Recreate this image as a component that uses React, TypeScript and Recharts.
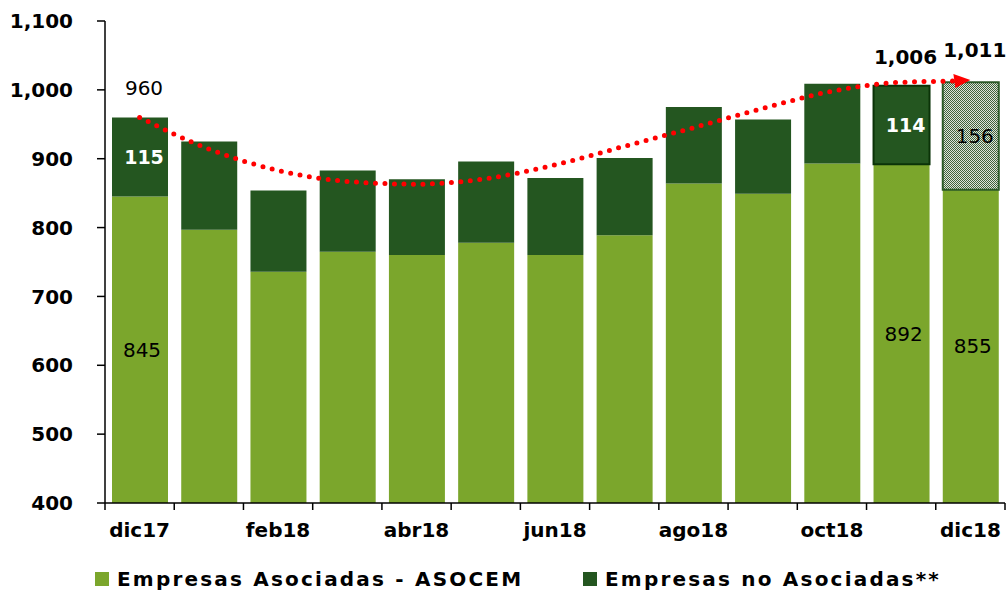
import { Bar, Cell, ComposedChart, LabelList, Legend, Line, XAxis, YAxis } from "recharts";

const months = ["dic17", "ene18", "feb18", "mar18", "abr18", "may18", "jun18", "jul18", "ago18", "sep18", "oct18", "nov18", "dic18"];
const asociadas = [845, 797, 736, 765, 760, 778, 760, 789, 864, 849, 893, 892, 855];
const noAsociadas = [115, 128, 118, 118, 110, 118, 112, 112, 111, 108, 116, 114, 156];
const tendencia = [960, 914, 883, 867, 863, 871, 891, 918, 945, 973, 998, 1011, 1013];
const labelledMonths = ["dic17", "nov18", "dic18"];
const yTicks = [400, 500, 600, 700, 800, 900, 1000, 1100];

const LIGHT = "#7ba62c";
const DARK = "#245620";
const FONT = "'DejaVu Sans', sans-serif";

const W = 1007;
const H = 592;
const Y_AXIS_W = 105;
const RIGHT = 2;
const band = (W - Y_AXIS_W - RIGHT) / months.length;

const fmt = (v: number) => v.toLocaleString("en-US");

const data = months.map((month, i) => {
  const shown = labelledMonths.includes(month);
  return {
    month,
    asoc: asociadas[i],
    noAsoc: noAsociadas[i],
    trend: tendencia[i],
    asocLabel: shown ? String(asociadas[i]) : "",
    noAsocLabel: shown ? String(noAsociadas[i]) : "",
    totalLabel: shown ? fmt(asociadas[i] + noAsociadas[i]) : "",
  };
});

const MonthTick = (props: any) => {
  const { x, y, payload, index } = props;
  return (
    <g>
      <line x1={x - band / 2} x2={x - band / 2} y1={y} y2={y + 7} stroke="#000" strokeWidth={1.5} />
      {index === months.length - 1 && (
        <line x1={x + band / 2} x2={x + band / 2} y1={y} y2={y + 7} stroke="#000" strokeWidth={1.5} />
      )}
      {index % 2 === 0 && (
        <text x={x} y={y + 34} textAnchor="middle" fontFamily={FONT} fontWeight="bold" fontSize={20} fill="#000">
          {payload.value}
        </text>
      )}
    </g>
  );
};

const AsocLabel = (props: any) => {
  const { x, y, width, height, value } = props;
  if (!value) return null;
  return (
    <text x={x + width / 2 + 2} y={y + height / 2 + 7} textAnchor="middle" fontFamily={FONT} fontSize={20} fill="#000">
      {value}
    </text>
  );
};

const NoAsocLabel = (props: any) => {
  const { x, y, width, height, value, index } = props;
  if (!value) return null;
  const last = index === months.length - 1;
  return (
    <text
      x={x + width / 2 + 4}
      y={y + height / 2 + 7}
      textAnchor="middle"
      fontFamily={FONT}
      fontWeight={last ? "normal" : "bold"}
      fontSize={last ? 20 : 19}
      fill={last ? "#000" : "#fff"}
    >
      {value}
    </text>
  );
};

const TotalLabel = (props: any) => {
  const { x, y, width, value, index } = props;
  if (!value) return null;
  return (
    <text
      x={x + width / 2 + 4}
      y={y - (index === months.length - 1 ? 25 : 22)}
      textAnchor="middle"
      fontFamily={FONT}
      fontWeight={index === 0 ? "normal" : "bold"}
      fontSize={20}
      fill="#000"
    >
      {value}
    </text>
  );
};

const ArrowDot = (props: any) => {
  const { cx, cy, index } = props;
  if (index !== months.length - 1) return <g key={`d${index}`} />;
  return <polygon key={`d${index}`} points={`${cx - 17},${cy - 7} ${cx},${cy - 1} ${cx - 15},${cy + 7}`} fill="#ff0000" />;
};

const LegendContent = (props: any) => {
  const items = (props.payload || []).filter((p: any) => p.type !== "none");
  return (
    <div style={{ display: "flex", paddingLeft: 95, paddingTop: 20, height: 22, alignItems: "center" }}>
      {items.map((item: any, i: number) => (
        <div key={item.value} style={{ display: "flex", alignItems: "center", width: i === 0 ? 488 : "auto" }}>
          <span style={{ width: 14, height: 14, background: item.color, display: "inline-block", marginRight: 8 }} />
          <span style={{ fontFamily: FONT, fontWeight: "bold", fontSize: 20, letterSpacing: 2.2, color: "#000" }}>{item.value}</span>
        </div>
      ))}
    </div>
  );
};

export default function App() {
  return (
    <div style={{ position: "absolute", left: 0, top: 0, background: "#fff" }}>
      <ComposedChart width={W} height={H} data={data} margin={{ top: 21, right: RIGHT, bottom: 0, left: 0 }}>
        <defs>
          <pattern id="hatch" width="2" height="2" patternUnits="userSpaceOnUse">
            <rect width="2" height="2" fill="#dfe3dc" />
            <rect width="1" height="1" fill="#40643b" />
            <rect x="1" y="1" width="1" height="1" fill="#40643b" />
          </pattern>
        </defs>
        <XAxis
          dataKey="month"
          interval={0}
          height={45}
          tickSize={0}
          tickMargin={0}
          tickLine={false}
          tick={<MonthTick />}
          axisLine={{ stroke: "#000", strokeWidth: 1.5 }}
        />
        <YAxis
          width={Y_AXIS_W}
          domain={[400, 1100]}
          ticks={yTicks}
          allowDataOverflow
          tickFormatter={fmt}
          tickSize={8}
          tickMargin={24}
          axisLine={{ stroke: "#000", strokeWidth: 1.5 }}
          tickLine={{ stroke: "#000", strokeWidth: 1.5 }}
          tick={{ fontFamily: FONT, fontWeight: "bold", fontSize: 20, fill: "#000" }}
        />
        <Legend verticalAlign="bottom" height={44} content={<LegendContent />} />
        <Bar dataKey="asoc" name="Empresas Asociadas - ASOCEM" stackId="a" fill={LIGHT} barSize={56} isAnimationActive={false}>
          <LabelList dataKey="asocLabel" content={<AsocLabel />} />
        </Bar>
        <Bar dataKey="noAsoc" name="Empresas no Asociadas**" stackId="a" fill={DARK} barSize={56} isAnimationActive={false}>
          {data.map((d, i) => (
            <Cell
              key={d.month}
              fill={i === months.length - 1 ? "url(#hatch)" : DARK}
              stroke={i === months.length - 1 ? "#2c5a28" : i === months.length - 2 ? "#0b3308" : "none"}
              strokeWidth={i >= months.length - 2 ? 2 : 0}
            />
          ))}
          <LabelList dataKey="noAsocLabel" content={<NoAsocLabel />} />
          <LabelList dataKey="totalLabel" content={<TotalLabel />} />
        </Bar>
        <Line
          dataKey="trend"
          type="monotone"
          stroke="#ff0000"
          strokeWidth={5}
          strokeDasharray="0 9.5"
          strokeLinecap="round"
          dot={ArrowDot}
          activeDot={false}
          legendType="none"
          isAnimationActive={false}
        />
      </ComposedChart>
    </div>
  );
}
